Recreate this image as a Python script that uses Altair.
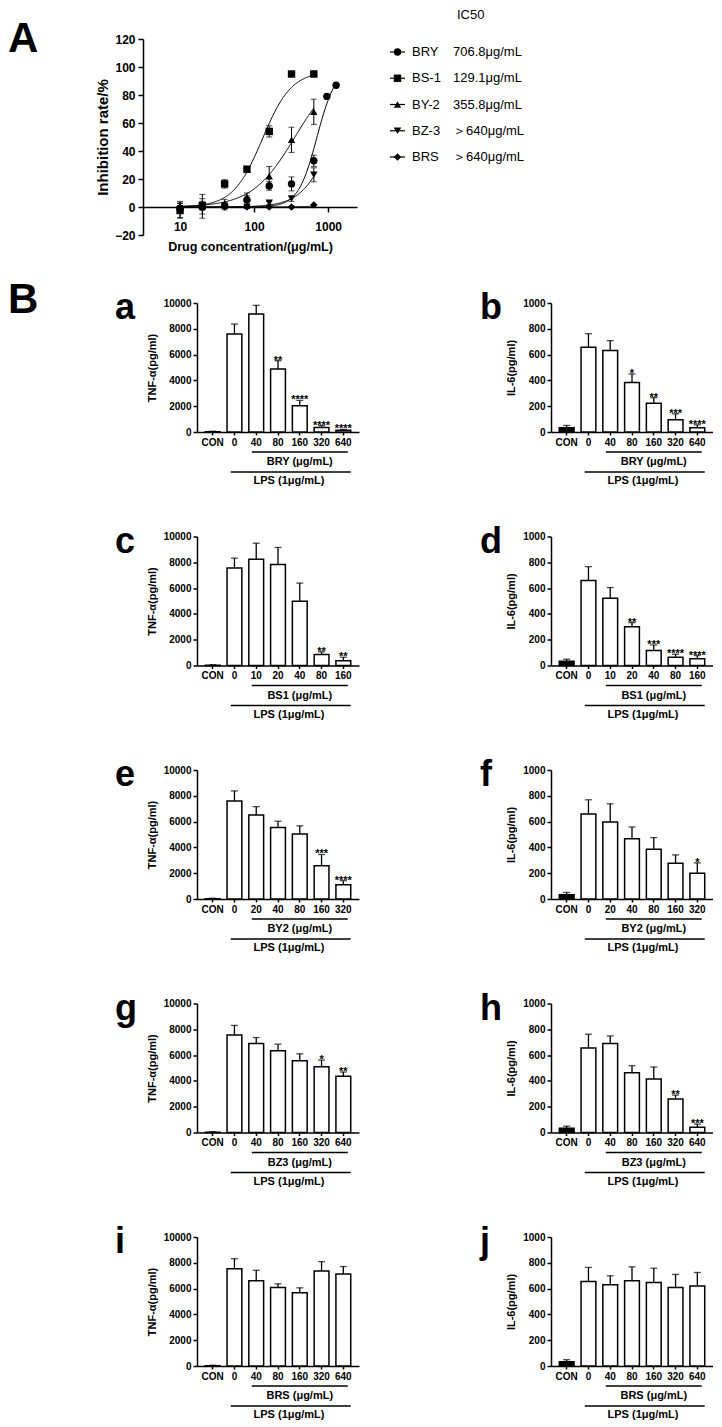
import math
import altair as alt
import pandas as pd

FONT = "Liberation Sans"

# ---------------- Panel A: inhibition curves ----------------
series = ["BRY", "BS-1", "BY-2", "BZ-3", "BRS"]
ic50_text = ["706.8μg/mL", "129.1μg/mL", "355.8μg/mL", "＞640μg/mL", "＞640μg/mL"]
shapes = ["circle", "square", "triangle-up", "triangle-down", "diamond"]

conc = [10, 20, 40, 80, 160, 320, 640]
conc_bry = [10, 20, 40, 80, 160, 320, 640, 960, 1280]

bry_mean = [-1, 0, 1, 5, 15, 16.5, 33, 79, 87]
bry_sd = [2, 2, 2, 3, 3, 5, 4, 1, 1]
bs1_mean = [-2.5, 1, 16.5, 27, 54, 95, 95]
bs1_sd = [5, 3, 3, 2, 4, 1, 1]
by2_mean = [0, 2, 2.5, 7, 22, 48, 68]
by2_sd = [3, 7, 3, 3, 7, 9, 9]
bz3_mean = [-2, -1, 0, 0, 3, 6, 23]
bz3_sd = [6, 7, 2, 1, 1, 2, 5]
brs_mean = [0, 0, 0, 0, 0, 0, 1.5]
brs_sd = [1, 1, 1, 1, 0.5, 0.5, 0.5]

# four-parameter fit parameters (bottom 0)
fit_top = [100, 97, 100, 100, 100]
fit_ic50 = [706.8, 129.1, 355.8, 1157, 8000]
fit_hill = [3.4, 2.2, 1.5, 2.14, 2.0]
fit_xmax = [1280, 640, 640, 640, 640]

# ---------------- Panel B: bar charts ----------------
cats_BRY = ["CON", "0", "40", "80", "160", "320", "640"]
cats_BS1 = ["CON", "0", "10", "20", "40", "80", "160"]
cats_BY2 = ["CON", "0", "20", "40", "80", "160", "320"]
cats_BZ3 = ["CON", "0", "40", "80", "160", "320", "640"]
cats_BRS = ["CON", "0", "40", "80", "160", "320", "640"]

a_mean = [20, 7600, 9150, 4880, 2040, 340, 130]
a_sd = [40, 770, 670, 650, 410, 150, 70]
a_star = ["", "", "", "**", "****", "****", "****"]
b_mean = [33, 657, 632, 384, 222, 95, 33]
b_sd = [18, 105, 76, 66, 44, 46, 23]
b_star = ["", "", "", "*", "**", "***", "****"]

c_mean = [20, 7550, 8240, 7830, 4990, 850, 360]
c_sd = [40, 770, 1240, 1320, 1400, 210, 280]
c_star = ["", "", "", "", "", "**", "**"]
d_mean = [33, 658, 522, 301, 116, 64, 52]
d_sd = [16, 108, 82, 31, 43, 23, 25]
d_star = ["", "", "", "**", "***", "****", "****"]

e_mean = [20, 7600, 6520, 5540, 5030, 2580, 1110]
e_sd = [40, 780, 640, 490, 640, 870, 310]
e_star = ["", "", "", "", "", "***", "****"]
f_mean = [33, 658, 596, 468, 386, 278, 200]
f_sd = [18, 111, 142, 90, 90, 64, 80]
f_star = ["", "", "", "", "", "", "*"]

g_mean = [20, 7560, 6900, 6330, 5560, 5100, 4360]
g_sd = [40, 740, 460, 520, 540, 520, 330]
g_star = ["", "", "", "", "", "*", "**"]
h_mean = [33, 656, 690, 464, 415, 259, 40]
h_sd = [16, 106, 59, 54, 93, 31, 25]
h_star = ["", "", "", "", "", "**", "***"]

i_mean = [20, 7530, 6600, 6080, 5670, 7370, 7140]
i_sd = [40, 790, 820, 290, 390, 720, 570]
i_star = ["", "", "", "", "", "", ""]
j_mean = [33, 656, 630, 661, 648, 609, 620]
j_sd = [16, 108, 69, 108, 110, 101, 105]
j_star = ["", "", "", "", "", "", ""]

# ======================= build panel A =======================
WA, HA = 214, 196
rows = []
all_means = [bry_mean, bs1_mean, by2_mean, bz3_mean, brs_mean]
all_sds = [bry_sd, bs1_sd, by2_sd, bz3_sd, brs_sd]
for k, s in enumerate(series):
    cc = conc_bry if s == "BRY" else conc
    for c, m, sd in zip(cc, all_means[k], all_sds[k]):
        rows.append({"series": s, "conc": c, "mean": m, "lo": m - sd, "hi": m + sd})
dfA = pd.DataFrame(rows)

xsA = alt.Scale(type="log", domain=[3.16, 2450], nice=False)
ysA = alt.Scale(domain=[-20, 120], nice=False)
axA_x = alt.Axis(values=[10, 100, 1000], format="d", title="Drug concentration/(μg/mL)",
                 offset=-28, labelFontSize=12, labelFontWeight="bold", titleFontSize=12.5,
                 titleFontWeight="bold", tickSize=5, labelPadding=9, titlePadding=8,
                 domainWidth=1.5, tickWidth=1.5, grid=False, labelFlush=False)
axA_y = alt.Axis(values=list(range(-20, 121, 20)), title="Inhibition rate/%", labelFontSize=12,
                 labelFontWeight="bold", titleFontSize=15, titleFontWeight="bold", tickSize=5,
                 labelPadding=3, titlePadding=4, domainWidth=1.5, tickWidth=1.5, grid=False,
                 labelFlush=False)
shape_enc = alt.Shape("series:N", scale=alt.Scale(domain=series, range=shapes), legend=None)

curves = []
for k in range(len(series)):
    lo, hi = 10.0, float(fit_xmax[k])
    curves.append(
        alt.Chart(alt.sequence(0, 201, as_="k"))
        .transform_calculate(
            conc=f"pow(10, {math.log10(lo)} + datum.k/200*{math.log10(hi) - math.log10(lo)})",
            mean=f"{fit_top[k]}/(1+pow({fit_ic50[k]}/datum.conc, {fit_hill[k]}))",
        )
        .mark_line(color="black", strokeWidth=1)
        .encode(x=alt.X("conc:Q", scale=xsA, axis=axA_x), y=alt.Y("mean:Q", scale=ysA, axis=axA_y))
    )

baseA = alt.Chart(dfA)
errA = baseA.mark_rule(color="black", strokeWidth=1).encode(
    x=alt.X("conc:Q", scale=xsA, axis=axA_x), y=alt.Y("lo:Q", scale=ysA, axis=axA_y), y2="hi:Q")
capA_hi = baseA.mark_tick(color="black", orient="horizontal", size=6, thickness=1).encode(
    x=alt.X("conc:Q", scale=xsA, axis=axA_x), y=alt.Y("hi:Q", scale=ysA, axis=axA_y))
capA_lo = baseA.mark_tick(color="black", orient="horizontal", size=6, thickness=1).encode(
    x=alt.X("conc:Q", scale=xsA, axis=axA_x), y=alt.Y("lo:Q", scale=ysA, axis=axA_y))
ptsA = baseA.mark_point(filled=True, size=55, color="black", opacity=1).encode(
    x=alt.X("conc:Q", scale=xsA, axis=axA_x), y=alt.Y("mean:Q", scale=ysA, axis=axA_y), shape=shape_enc)
letterA = alt.Chart(pd.DataFrame({"t": ["A"]})).mark_text(
    fontSize=42, fontWeight="bold", align="left", baseline="alphabetic").encode(
    text="t:N", x=alt.value(-135), y=alt.value(13))

mainA = alt.layer(*curves, errA, capA_hi, capA_lo, ptsA, letterA)

dfL = pd.DataFrame({"series": series, "ic50": ic50_text})
yL = alt.Y("series:N", scale=alt.Scale(type="point", domain=series, range=[13, 118], padding=0), axis=None)
leg_line = alt.Chart(dfL).mark_rule(color="black", strokeWidth=1.2).encode(
    y=yL, x=alt.value(247), x2=alt.value(262))
leg_pt = alt.Chart(dfL).mark_point(filled=True, size=55, color="black", opacity=1).encode(
    y=yL, x=alt.value(254.5), shape=shape_enc)
leg_name = alt.Chart(dfL).mark_text(align="left", baseline="middle", fontSize=13).encode(
    y=yL, x=alt.value(269), text="series:N")
leg_val = alt.Chart(dfL).mark_text(align="left", baseline="middle", fontSize=13).encode(
    y=yL, x=alt.value(310), text="ic50:N")
leg_head = alt.Chart(pd.DataFrame({"t": ["IC50"]})).mark_text(
    align="left", baseline="middle", fontSize=13).encode(text="t:N", x=alt.value(314), y=alt.value(-24))
legendA = alt.layer(leg_line, leg_pt, leg_name, leg_val, leg_head)

panelA = alt.layer(mainA, legendA).resolve_scale(y="independent").properties(width=WA, height=HA)

# ======================= build bar panels =======================
W, H = 162, 129


def bar_panel(letter, cats, means, sds, stars, drug, ytitle, ymax, ystep, left, show_B):
    tops = [m + s for m, s in zip(means, sds)]
    fills = ["black"] + ["white"] * (len(cats) - 1)
    df = pd.DataFrame({"cat": cats, "mean": means, "top": tops, "star": stars, "fill": fills})
    xs = alt.Scale(domain=cats, paddingInner=0.32, paddingOuter=0.38)
    xax = alt.Axis(title=None, labelAngle=0, labelFontSize=10, labelFontWeight="bold", tickSize=3,
                   labelPadding=2, domainWidth=1.5, tickWidth=1.5, labelOverlap=False)
    x = alt.X("cat:N", scale=xs, axis=xax, sort=cats)
    ys = alt.Scale(domain=[0, ymax], nice=False)
    yax = alt.Axis(values=list(range(0, ymax + 1, ystep)), title=ytitle, labelFontSize=10,
                   labelFontWeight="bold", titleFontSize=11, titleFontWeight="bold", tickSize=4,
                   labelPadding=2, titlePadding=6, domainWidth=1.5, tickWidth=1.5, grid=False,
                   labelFlush=False, format="d")
    base = alt.Chart(df)
    bars = base.mark_bar(stroke="black", strokeWidth=1.5).encode(
        x=x, y=alt.Y("mean:Q", scale=ys, axis=yax), fill=alt.Fill("fill:N", scale=None))
    err = base.mark_rule(color="black", strokeWidth=1.3).encode(
        x=x, y=alt.Y("mean:Q", scale=ys, axis=yax), y2="top:Q")
    cap = base.mark_tick(color="black", orient="horizontal", size=7, thickness=1.3).encode(
        x=x, y=alt.Y("top:Q", scale=ys, axis=yax))
    star = base.mark_text(fontSize=11, fontWeight="bold", baseline="alphabetic", dy=3).encode(
        x=x, y=alt.Y("top:Q", scale=ys, axis=yax), text="star:N")

    drug_line = alt.Chart(pd.DataFrame({"s": [cats[2]], "e": [cats[-1]]})).mark_rule(
        color="black", strokeWidth=1.5).encode(
        x=alt.X("s:N", scale=xs, axis=xax, bandPosition=0.2),
        x2=alt.X2("e:N", bandPosition=0.8), y=alt.value(H + 20))
    lps_line = alt.Chart(pd.DataFrame({"s": [cats[1]], "e": [cats[-1]]})).mark_rule(
        color="black", strokeWidth=1.5).encode(
        x=alt.X("s:N", scale=xs, axis=xax, bandPosition=0.25),
        x2=alt.X2("e:N", bandPosition=1.0), y=alt.value(H + 40))
    drug_text = alt.Chart(pd.DataFrame({"c": [cats[4]], "t": [f"{drug} (μg/mL)"]})).mark_text(
        fontSize=11, fontWeight="bold", baseline="middle").encode(
        x=alt.X("c:N", scale=xs, axis=xax), y=alt.value(H + 30), text="t:N")
    lps_text = alt.Chart(pd.DataFrame({"c": [cats[3]], "t": ["LPS (1μg/mL)"]})).mark_text(
        fontSize=11, fontWeight="bold", baseline="middle", dx=11).encode(
        x=alt.X("c:N", scale=xs, axis=xax), y=alt.value(H + 49), text="t:N")

    let = alt.Chart(pd.DataFrame({"t": [letter]})).mark_text(
        fontSize=36, fontWeight="bold", align="left", baseline="alphabetic").encode(
        text="t:N", x=alt.value(-82 if left else -71), y=alt.value(16))
    layers = [bars, err, cap, star, drug_line, lps_line, drug_text, lps_text, let]
    if left:
        bigB = alt.Chart(pd.DataFrame({"t": ["B"]})).mark_text(
            fontSize=42, fontWeight="bold", align="left", baseline="alphabetic",
            opacity=1 if show_B else 0).encode(text="t:N", x=alt.value(-189), y=alt.value(10))
        layers.append(bigB)
    return alt.layer(*layers).properties(width=W, height=H)


TNF = "TNF-α(pg/ml)"
IL6 = "IL-6(pg/ml)"
panel_specs = [
    ("a", "b", cats_BRY, a_mean, a_sd, a_star, b_mean, b_sd, b_star, "BRY"),
    ("c", "d", cats_BS1, c_mean, c_sd, c_star, d_mean, d_sd, d_star, "BS1"),
    ("e", "f", cats_BY2, e_mean, e_sd, e_star, f_mean, f_sd, f_star, "BY2"),
    ("g", "h", cats_BZ3, g_mean, g_sd, g_star, h_mean, h_sd, h_star, "BZ3"),
    ("i", "j", cats_BRS, i_mean, i_sd, i_star, j_mean, j_sd, j_star, "BRS"),
]
row_charts = []
for n, (l1, l2, cats, m1, s1, st1, m2, s2, st2, drug) in enumerate(panel_specs):
    left = bar_panel(l1, cats, m1, s1, st1, drug, TNF, 10000, 2000, True, n == 0)
    right = bar_panel(l2, cats, m2, s2, st2, drug, IL6, 1000, 200, False, False)
    row_charts.append(alt.hconcat(left, right, spacing=192, bounds="flush"))

rowsB = alt.vconcat(*row_charts, spacing=26.5)

# invisible spacer so that the bar grid sits 54px right of panel A's plot origin
spacer = alt.Chart(pd.DataFrame({"v": [0]})).mark_point(opacity=0).encode(
    x=alt.value(0), y=alt.value(0)).properties(width=1, height=1)
rowB_wrap = alt.hconcat(spacer, rowsB, spacing=53, bounds="flush")

chart = (
    alt.vconcat(panelA, rowB_wrap, spacing=26)
    .properties(padding={"left": 0, "top": 1, "right": 0, "bottom": 0})
    .configure_view(stroke=None)
    .configure_axis(labelColor="black", titleColor="black", domainColor="black", tickColor="black",
                    labelFont=FONT, titleFont=FONT)
    .configure_text(font=FONT, color="black")
)

chart.save("out.html", embed_options={"renderer": "svg", "actions": False})
